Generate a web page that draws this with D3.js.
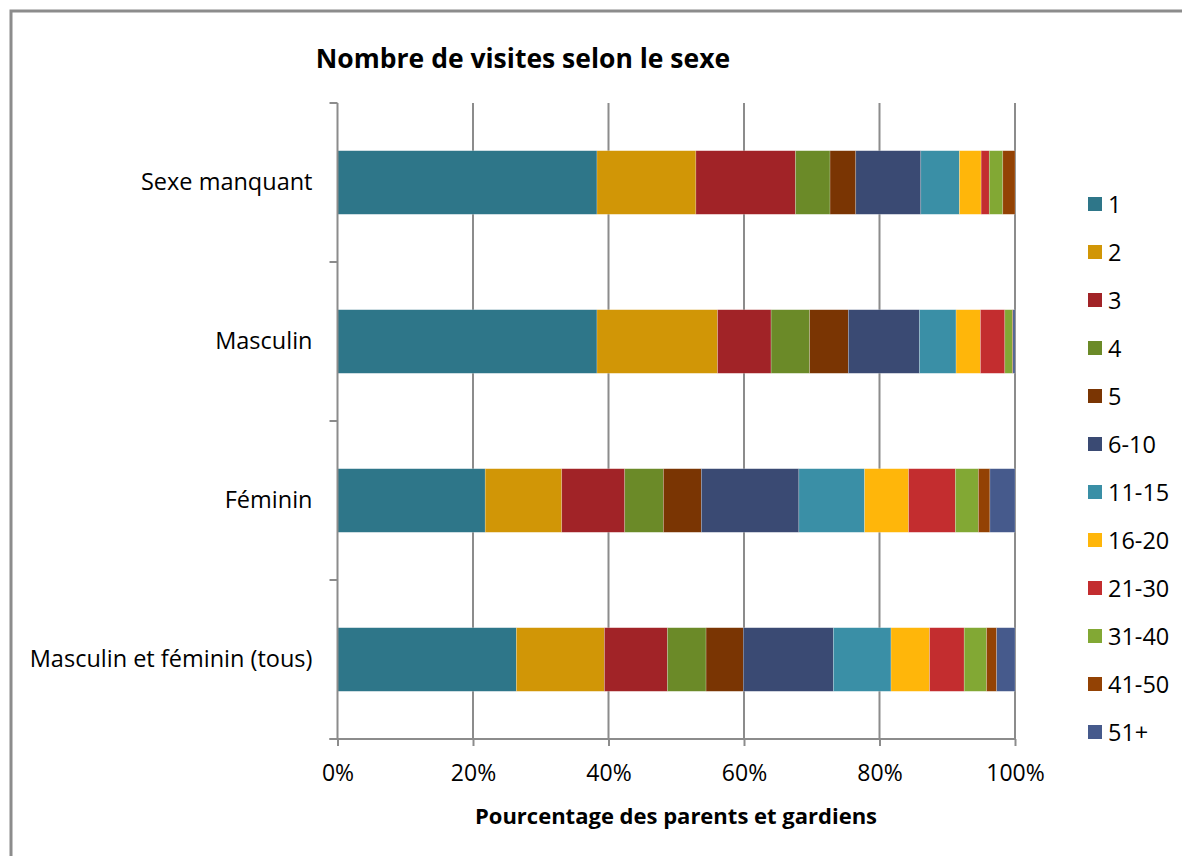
<!DOCTYPE html>
<html><head><meta charset="utf-8">
<script src="https://cdn.jsdelivr.net/npm/d3@7"></script>
<style>
html,body{margin:0;padding:0;background:#fff;}
svg{display:block;font-family:"Open Sans",sans-serif;}
</style></head>
<body>
<svg id="chart" width="1182" height="856"></svg>
<script>
const categories = ["Sexe manquant", "Masculin", "Féminin", "Masculin et féminin (tous)"];
const seriesKeys = ["1","2","3","4","5","6-10","11-15","16-20","21-30","31-40","41-50","51+"];
const seriesColors = ["#2e7689","#d19606","#a12327","#6b8a28","#7a3503","#3a4a73","#3a8fa6","#ffb60a","#c32d2f","#82a834","#934204","#465a8c"];
const valSexeManquant = [38.3,14.6,14.7,5.1,3.8,9.6,5.7,3.2,1.2,2.0,1.8,0.0];
const valMasculin     = [38.3,17.8,7.9,5.7,5.7,10.5,5.4,3.6,3.6,1.1,0.1,0.3];
const valFeminin      = [21.8,11.3,9.3,5.7,5.6,14.4,9.7,6.5,6.9,3.4,1.7,3.7];
const valTous         = [26.4,13.0,9.3,5.7,5.5,13.3,8.5,5.7,5.1,3.3,1.5,2.7];
const xTicks = [0,0.2,0.4,0.6,0.8,1.0];
const titleText = "Nombre de visites selon le sexe";
const xTitleText = "Pourcentage des parents et gardiens";

const rowsVals = [valSexeManquant, valMasculin, valFeminin, valTous];
const data = categories.map((c,i)=>{
  const o = {cat:c};
  const tot = d3.sum(rowsVals[i]);
  seriesKeys.forEach((k,j)=>o[k]=rowsVals[i][j]/tot);
  return o;
});

const svg = d3.select("#chart");
const grey = "#8c8c8c";
const FONT = "Open Sans";

svg.append("path").attr("d","M11,856 L11,11 L1182,11").attr("fill","none").attr("stroke",grey).attr("stroke-width",3);

const pL = 337.5, pR = 1015, pT = 103, pB = 739;
const x = d3.scaleLinear().domain([0,1]).range([pL,pR]);
const y = d3.scaleBand().domain(categories).range([pT,pB]).paddingInner(0.6).paddingOuter(0.3);

svg.append("g").selectAll("line").data(xTicks.slice(1)).join("line")
  .attr("x1",d=>x(d)).attr("x2",d=>x(d)).attr("y1",pT).attr("y2",pB)
  .attr("stroke",grey).attr("stroke-width",2);

const stack = d3.stack().keys(seriesKeys)(data);
svg.append("g").selectAll("g").data(stack).join("g")
  .attr("fill",(d,i)=>seriesColors[i])
  .selectAll("rect").data(d=>d).join("rect")
  .attr("x",d=>x(d[0])).attr("width",d=>Math.max(0,x(d[1])-x(d[0])))
  .attr("y",d=>y(d.data.cat)).attr("height",y.bandwidth())
  .attr("stroke","rgba(255,255,255,0.35)").attr("stroke-width",0.6);

const xAxis = d3.axisBottom(x).tickValues(xTicks).tickFormat(d3.format(".0%")).tickSize(7).tickSizeOuter(0);
const gx = svg.append("g").attr("transform",`translate(0,${pB})`).call(xAxis);
gx.select(".domain").attr("stroke",grey).attr("stroke-width",2).attr("d",`M${pL-8},0H${pR}`);
gx.selectAll(".tick line").attr("stroke",grey).attr("stroke-width",2);
gx.selectAll(".tick text").attr("fill","#000").attr("font-size",23).attr("font-family",FONT).attr("dy","1.4em");

const yAxis = d3.axisLeft(y).tickSize(0).tickPadding(25);
const gy = svg.append("g").attr("transform",`translate(${pL},0)`).call(yAxis);
gy.select(".domain").attr("stroke",grey).attr("stroke-width",2).attr("d",`M0,${pT}V${pB}`);
gy.selectAll(".tick text").attr("fill","#000").attr("font-size",23.5).attr("font-family",FONT);
const bnds = d3.range(categories.length+1).map(i=>pT + i*(pB-pT)/categories.length);
svg.append("g").selectAll("line").data(bnds).join("line")
  .attr("x1",pL-8).attr("x2",pL).attr("y1",d=>d).attr("y2",d=>d)
  .attr("stroke",grey).attr("stroke-width",2);

svg.append("text").attr("x",523).attr("y",58).attr("text-anchor","middle").attr("dominant-baseline","central")
  .attr("font-size",26.5).attr("font-weight","bold").text(titleText);
svg.append("text").attr("x",676).attr("y",815).attr("text-anchor","middle").attr("dominant-baseline","central")
  .attr("font-size",22).attr("font-weight","bold").text(xTitleText);

const lg = svg.append("g");
const items = lg.selectAll("g").data(seriesKeys).join("g")
  .attr("transform",(d,i)=>`translate(1088,${204 + i*48.0})`);
items.append("rect").attr("x",0).attr("y",-7).attr("width",14).attr("height",14).attr("fill",(d,i)=>seriesColors[i]);
items.append("text").attr("x",20).attr("y",0).attr("dominant-baseline","central").attr("font-size",23.5).text(d=>d);
</script>
</body></html>
